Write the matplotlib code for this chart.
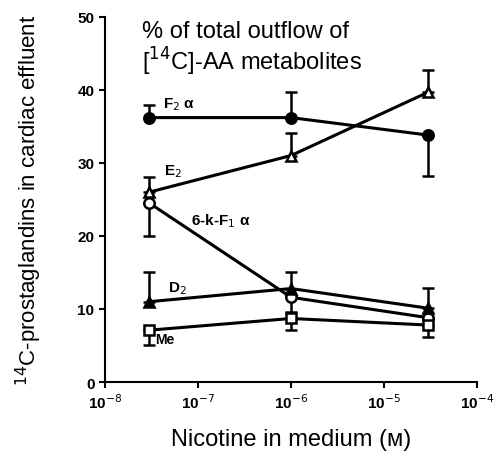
import numpy as np
import matplotlib
matplotlib.use("Agg")
import matplotlib.pyplot as plt

plt.rcParams['font.family'] = ['Liberation Sans', 'DejaVu Sans']

# Concentraciones de nicotina (M)
nicotina = [3e-8, 1e-6, 3e-5]

# % del total de metabolitos
f2a = [36.2, 36.2, 33.8]
f2a_err_lo = [0, 0, 5.6]
f2a_err_hi = [1.7, 3.5, 0]

e2 = [26.0, 31.0, 39.7]
e2_err_lo = [0, 0, 0]
e2_err_hi = [2.1, 3.1, 3.0]

k6f1a = [24.5, 11.6, 8.8]
k6f1a_err_lo = [4.5, 2.0, 0]
k6f1a_err_hi = [0, 0, 0]

d2 = [11.0, 12.8, 10.1]
d2_err_lo = [0, 0, 0]
d2_err_hi = [4.1, 2.2, 2.8]

me = [7.1, 8.7, 7.8]
me_err_lo = [2.0, 1.6, 1.6]
me_err_hi = [0, 0, 0]

yticks = [0, 10, 20, 30, 40, 50]
xticks = [1e-8, 1e-7, 1e-6, 1e-5, 1e-4]
xticklabels = ['10$^{-8}$', '10$^{-7}$', '10$^{-6}$', '10$^{-5}$', '10$^{-4}$']

fig = plt.figure(figsize=(4.97, 4.56), dpi=100)
ax = fig.add_axes([0.211, 0.160, 0.749, 0.801])

series = [
    (f2a, f2a_err_lo, f2a_err_hi, 'o', 'black'),
    (e2, e2_err_lo, e2_err_hi, '^', 'white'),
    (k6f1a, k6f1a_err_lo, k6f1a_err_hi, 'o', 'white'),
    (d2, d2_err_lo, d2_err_hi, '^', 'black'),
    (me, me_err_lo, me_err_hi, 's', 'white'),
]
for vals, lo, hi, mk, fc in series:
    ax.errorbar(nicotina, vals, yerr=[lo, hi], fmt='-', marker=mk,
                color='black', mfc=fc, mec='black', mew=1.8, ms=7.5,
                lw=2.2, elinewidth=1.8, capsize=4, capthick=1.8, zorder=3)

ax.set_xscale('log')
ax.set_xlim(1e-8, 1e-4)
ax.set_ylim(0, 50)
ax.set_xticks(xticks)
ax.set_xticklabels(xticklabels, fontweight='bold', fontsize=11)
ax.minorticks_off()
ax.set_yticks(yticks)
ax.set_yticklabels([str(t) for t in yticks], fontweight='bold', fontsize=11)
ax.spines['top'].set_visible(False)
ax.spines['right'].set_visible(False)
ax.spines['left'].set_linewidth(1.5)
ax.spines['bottom'].set_linewidth(1.5)
ax.tick_params(width=1.5, length=4)

ax.set_xlabel('Nicotine in medium (\u1d0d)', fontsize=17, labelpad=12)
ax.set_ylabel('$^{14}$C-prostaglandins in cardiac effluent', fontsize=16, labelpad=24)

# Título dentro del gráfico
ax.text(0.10, 0.99, '% of total outflow of\n[$^{14}$C]-AA metabolites',
        transform=ax.transAxes, fontsize=17, va='top', ha='left', linespacing=1.1)

# Etiquetas de las series
ax.text(4.2e-8, 37.6, 'F$_2$ α', fontsize=11, fontweight='bold')
ax.text(4.3e-8, 28.4, 'E$_2$', fontsize=11, fontweight='bold')
ax.text(8.4e-8, 21.6, '6-k-F$_1$ α', fontsize=11, fontweight='bold')
ax.text(4.8e-8, 12.4, 'D$_2$', fontsize=11, fontweight='bold')
ax.text(3.5e-8, 5.3, 'Me', fontsize=10, fontweight='bold')

plt.savefig('out.png', dpi=100)
